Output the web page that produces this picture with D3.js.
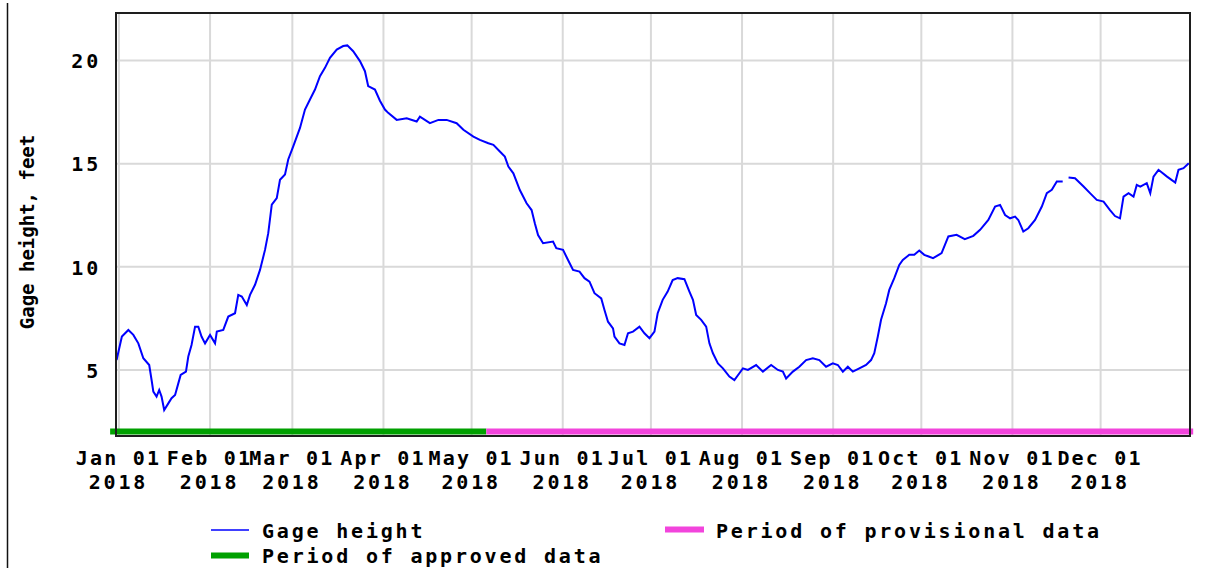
<!DOCTYPE html>
<html>
<head>
<meta charset="utf-8">
<script src="https://cdn.jsdelivr.net/npm/d3@7"></script>
<style>
  html, body { margin: 0; padding: 0; background: #fff; }
  svg { display: block; }
  text {
    font-family: "DejaVu Sans Mono", "Liberation Mono", monospace;
    font-weight: bold;
    font-size: 20px;
    letter-spacing: 2.8px;
    fill: #000;
  }
</style>
</head>
<body>
<svg id="chart" width="1232" height="568"></svg>
<script>
// Gage height record for 2018: day offset from Jan 1 and stage in feet (null = missing record)
const daysFromJan1 = [
  -0.8, 1.0, 3.2, 4.9, 6.6, 8.3, 10.3, 11.2, 11.7, 12.8, 13.7, 14.5, 15.4, 16.8, 17.9, 19.1,
  20.2, 21.0, 22.8, 23.6, 24.7, 25.9, 27.0, 28.1, 29.3, 31.0, 32.7, 33.3, 35.5, 37.2, 39.5,
  40.6, 41.8, 43.5, 44.6, 46.3, 48.0, 49.7, 50.8, 52.0, 53.7, 54.8, 56.5, 57.6, 59.3, 61.6,
  63.3, 65.0, 66.7, 68.4, 70.1, 71.8, 74.1, 76.3, 77.7, 79.7, 82.0, 83.7, 84.8, 87.1, 88.8,
  90.5, 91.6, 94.5, 97.9, 101.3, 102.4, 105.8, 108.7, 111.5, 114.9, 117.2, 120.6, 122.8,
  125.7, 127.4, 129.6, 131.3, 132.5, 134.2, 136.4, 138.7, 140.4, 141.5, 142.6, 144.3, 147.7,
  148.8, 151.1, 152.8, 154.5, 156.7, 158.4, 160.1, 161.8, 164.1, 165.2, 166.4, 168.1, 168.6,
  170.3, 172.0, 173.2, 174.9, 177.1, 178.8, 180.5, 182.2, 183.3, 185.0, 186.7, 188.4, 190.1,
  192.4, 194.1, 195.3, 196.4, 198.1, 199.8, 200.9, 202.1, 203.8, 205.5, 207.7, 209.4, 211.1,
  212.3, 214.0, 216.8, 219.1, 221.9, 224.2, 225.9, 227.0, 229.3, 231.5, 233.8, 236.1, 238.3,
  240.6, 242.9, 244.6, 246.3, 248.0, 249.7, 251.9, 254.2, 255.9, 257.0, 258.2, 259.3, 261.0,
  262.1, 263.8, 265.5, 266.7, 268.9, 270.6, 272.3, 274.0, 275.5, 277.0, 279.9, 282.2, 285.0,
  287.8, 290.7, 293.0, 295.8, 298.1, 299.8, 301.5, 303.2, 304.9, 306.0, 307.7, 309.4, 311.7,
  314.0, 315.7, 317.4, 319.1, 321.1, 322.1, 323.1, 325.3, 328.2, 330.4, 332.7, 335.0, 337.2,
  338.9, 340.6, 341.8, 343.5, 345.2, 346.3, 347.5, 349.7, 350.9, 352.0, 353.7, 356.6, 359.4,
  360.5, 362.2, 364.0
];
const gageFeet = [
  5.48, 6.62, 6.94, 6.70, 6.29, 5.57, 5.24, 4.43, 3.95, 3.71, 4.03, 3.71, 3.06, 3.38, 3.63, 3.79,
  4.35, 4.76, 4.92, 5.65, 6.21, 7.10, 7.10, 6.62, 6.29, 6.70, 6.29, 6.86, 6.94, 7.59, 7.75,
  8.64, 8.56, 8.15, 8.64, 9.13, 9.85, 10.82, 11.63, 13.01, 13.33, 14.22, 14.47, 15.20, 15.84, 16.73,
  17.62, 18.11, 18.59, 19.24, 19.64, 20.13, 20.53, 20.70, 20.73, 20.45, 19.97, 19.48, 18.76, 18.59, 18.05,
  17.62, 17.46, 17.12, 17.20, 17.04, 17.28, 16.96, 17.12, 17.12, 16.96, 16.64, 16.31, 16.15,
  15.99, 15.91, 15.59, 15.34, 14.86, 14.53, 13.72, 13.08, 12.75, 12.11, 11.54, 11.14, 11.22,
  10.90, 10.82, 10.33, 9.85, 9.77, 9.45, 9.28, 8.72, 8.47, 7.91, 7.34, 7.02, 6.62,
  6.29, 6.21, 6.78, 6.86, 7.10, 6.78, 6.54, 6.86, 7.75, 8.40, 8.80, 9.36, 9.45,
  9.40, 8.80, 8.40, 7.67, 7.43, 7.10, 6.29, 5.81, 5.32, 5.08, 4.68, 4.51, 4.84,
  5.08, 5.00, 5.24, 4.92, 5.24, 5.00, 4.92, 4.59, 4.92, 5.16, 5.48, 5.57, 5.48,
  5.16, 5.32, 5.24, 4.92, 5.16, 4.92, 5.08, 5.24, 5.48, 5.81, 6.62, 7.43, 8.23,
  8.88, 9.45, 10.09, 10.33, 10.58, 10.58, 10.79, 10.58, 10.50, 10.42, 10.66, 11.47, 11.55,
  11.34, 11.50, 11.79, 12.27, 12.92, 13.00, 12.51, 12.35, 12.43, 12.27, 11.71, 11.87, 12.27,
  12.92, 13.57, 13.73, 14.13, 14.13, null, 14.33, 14.29, 13.89, 13.57, 13.24, 13.16, 12.75,
  12.46, 12.35, 13.40, 13.57, 13.40, 13.97, 13.89, 14.05, 13.57, 14.37, 14.70, 14.37, 14.08,
  14.70, 14.78, 15.02
];

// Axis ticks
const monthTicks = ["2018-01-01", "2018-02-01", "2018-03-01", "2018-04-01", "2018-05-01", "2018-06-01",
                    "2018-07-01", "2018-08-01", "2018-09-01", "2018-10-01", "2018-11-01", "2018-12-01"];
const monthLabels = ["Jan 01", "Feb 01", "Mar 01", "Apr 01", "May 01", "Jun 01",
                     "Jul 01", "Aug 01", "Sep 01", "Oct 01", "Nov 01", "Dec 01"];
const yearLabel = "2018";
const feetTicks = [5, 10, 15, 20];

// Data-approval periods
const periodNames = ["Period of approved data", "Period of provisional data"];
const periodStarts = ["2017-12-29T00:00", "2018-05-06T00:00"];
const periodEnds = ["2018-05-06T00:00", "2019-01-01T12:00"];

const xDomain = ["2017-12-31T00:00", "2018-12-31T10:00"];
const yDomain = [1.8, 22.3];
const seriesName = "Gage height";
const yTitle = "Gage height, feet";

// ---- styles / layout ----
const colors = { line: "#0000ff", approved: "#00a000", provisional: "#f244dc", grid: "#d9d9d9", frame: "#1e1e1e" };
const W = 1232, H = 568;
const m = { left: 116, top: 13, right: 1190, bottom: 436 };

const parseDay = d3.timeParse("%Y-%m-%d");
const parseTime = d3.timeParse("%Y-%m-%dT%H:%M");
const jan1 = parseDay("2018-01-01");

const x = d3.scaleTime().domain(xDomain.map(parseTime)).range([m.left, m.right]);
const y = d3.scaleLinear().domain(yDomain).range([m.bottom, m.top]);

const svg = d3.select("#chart");
svg.append("rect").attr("width", W).attr("height", H).attr("fill", "#fff");

// thin border at the page's left edge
svg.append("line").attr("x1", 7.5).attr("x2", 7.5).attr("y1", 3).attr("y2", H)
  .attr("stroke", "#111").attr("stroke-width", 1.5);

// gridlines
const grid = svg.append("g");
grid.selectAll("line.v").data(monthTicks.map(parseDay)).join("line")
  .attr("class", "v")
  .attr("x1", d => x(d)).attr("x2", d => x(d))
  .attr("y1", m.top).attr("y2", m.bottom)
  .attr("stroke", colors.grid).attr("stroke-width", 2);
grid.selectAll("line.h").data(feetTicks).join("line")
  .attr("class", "h")
  .attr("x1", m.left).attr("x2", m.right)
  .attr("y1", d => y(d)).attr("y2", d => y(d))
  .attr("stroke", colors.grid).attr("stroke-width", 2);

// approval-period bars along the bottom of the plot
const periodColor = [colors.approved, colors.provisional];
svg.append("g").selectAll("line").data(periodNames).join("line")
  .attr("x1", (d, i) => x(parseTime(periodStarts[i])))
  .attr("x2", (d, i) => x(parseTime(periodEnds[i])))
  .attr("y1", m.bottom - 4.5).attr("y2", m.bottom - 4.5)
  .attr("stroke", (d, i) => periodColor[i]).attr("stroke-width", 6);

// gage height line
const pts = daysFromJan1.map((d, i) => ({ t: new Date(jan1.getTime() + d * 864e5), v: gageFeet[i] }));
const line = d3.line()
  .defined(d => d.v !== null)
  .x(d => x(d.t)).y(d => y(d.v));
svg.append("path").datum(pts)
  .attr("d", line)
  .attr("fill", "none")
  .attr("stroke", colors.line)
  .attr("stroke-width", 2)
  .attr("stroke-linejoin", "miter");

// plot frame
svg.append("rect")
  .attr("x", m.left).attr("y", m.top)
  .attr("width", m.right - m.left).attr("height", m.bottom - m.top)
  .attr("fill", "none").attr("stroke", colors.frame).attr("stroke-width", 2);

// y axis
const yAxis = d3.axisLeft(y).tickValues(feetTicks).tickSize(0).tickPadding(0).tickFormat(d3.format("d"));
const gy = svg.append("g").attr("transform", `translate(101,0)`).call(yAxis);
gy.select(".domain").remove();
gy.selectAll("text").attr("font-size", null).attr("font-family", null).attr("dy", "0.36em");

// x axis, two-line labels (month/day above, year below)
const xAxis = d3.axisBottom(x).tickValues(monthTicks.map(parseDay)).tickSize(0).tickPadding(0)
  .tickFormat((d, i) => monthLabels[i]);
const gx = svg.append("g").attr("transform", `translate(-1,${m.bottom})`).call(xAxis);
gx.select(".domain").remove();
gx.selectAll(".tick text")
  .attr("font-size", null).attr("font-family", null)
  .attr("y", 29).attr("dy", null)
  .style("letter-spacing", "2.2px");
gx.selectAll(".tick").append("text")
  .attr("fill", "currentColor")
  .attr("text-anchor", "middle")
  .attr("y", 53)
  .text(yearLabel);

// y-axis title
svg.append("text")
  .attr("transform", "translate(34,232) rotate(-90)")
  .attr("text-anchor", "middle")
  .style("font-size", "19px")
  .style("letter-spacing", "0px")
  .text(yTitle);

// legend
const lg = svg.append("g");
lg.append("line").attr("x1", 211).attr("x2", 249).attr("y1", 530).attr("y2", 530)
  .attr("stroke", colors.line).attr("stroke-width", 1.5);
lg.append("text").attr("x", 262).attr("y", 538).text(seriesName);
lg.append("line").attr("x1", 211).attr("x2", 249).attr("y1", 555.5).attr("y2", 555.5)
  .attr("stroke", colors.approved).attr("stroke-width", 6);
lg.append("text").attr("x", 262).attr("y", 563).text(periodNames[0]);
lg.append("line").attr("x1", 665).attr("x2", 704).attr("y1", 529.5).attr("y2", 529.5)
  .attr("stroke", colors.provisional).attr("stroke-width", 6);
lg.append("text").attr("x", 716).attr("y", 538).text(periodNames[1]);
</script>
</body>
</html>
